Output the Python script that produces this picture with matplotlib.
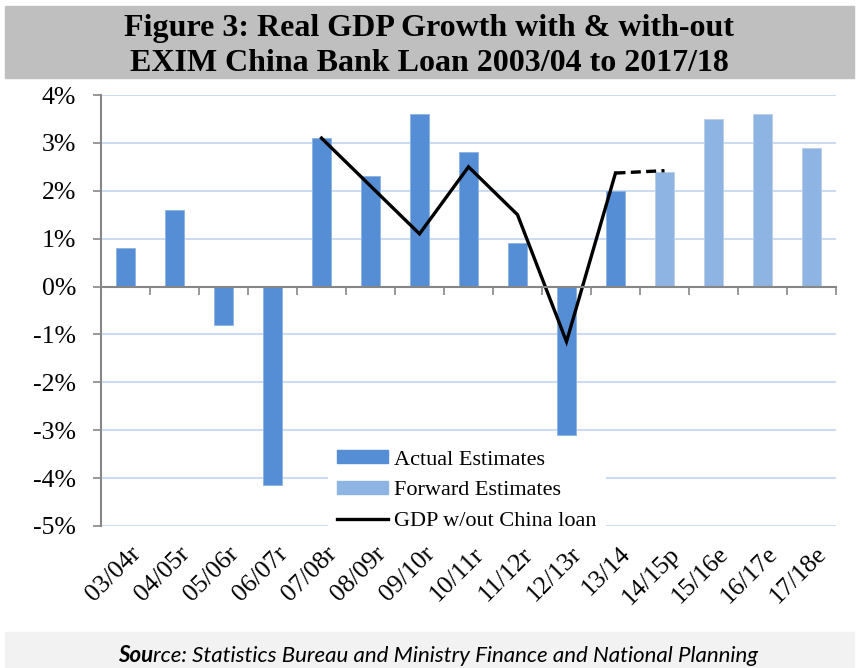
import numpy as np
import matplotlib.pyplot as plt
from matplotlib import patches
from matplotlib.lines import Line2D

years = ['03/04r', '04/05r', '05/06r', '06/07r', '07/08r', '08/09r', '09/10r',
         '10/11r', '11/12r', '12/13r', '13/14', '14/15p', '15/16e', '16/17e', '17/18e']
actual = [0.8, 1.6, -0.8, -4.15, 3.1, 2.3, 3.6, 2.8, 0.9, -3.1, 2.0]
forward = [2.4, 3.5, 3.6, 2.9]
no_loan = [3.1, 2.1, 1.1, 2.5, 1.5, -1.15, 2.37]   # 07/08r .. 13/14
no_loan_proj = [2.37, 2.42]                        # 13/14 .. 14/15p

c_actual = '#558ED5'
c_forward = '#8EB4E3'
c_grid = '#C6D9F1'
c_axis = '#868686'
W, H = 859, 668

fig = plt.figure(figsize=(W / 100, H / 100), dpi=100)

# title band and source band
fig.patches.append(patches.Rectangle((5 / W, 1 - 78 / H), 849 / W, 72 / H,
                                     transform=fig.transFigure, color='#BFBFBF', zorder=0))
fig.patches.append(patches.Rectangle((5 / W, 0), 849 / W, 36 / H,
                                     transform=fig.transFigure, color='#F2F2F2', zorder=0))
title_kw = dict(ha='center', va='baseline', fontsize=23, fontweight='bold', family='Liberation Serif')
fig.text(0.5, 1 - 36 / H, 'Figure 3: Real GDP Growth with & with-out', **title_kw)
fig.text(0.5, 1 - 71 / H, 'EXIM China Bank Loan 2003/04 to 2017/18', **title_kw)

src_y = 12 / H
t1 = fig.text(118 / W, src_y, 'Sou', ha='left', va='center', fontsize=16,
              family='Lato', style='italic', fontweight='bold')
fig.canvas.draw()
bb = t1.get_window_extent()
fig.text(bb.x1 / W, src_y, 'rce: Statistics Bureau and Ministry Finance and National Planning',
         ha='left', va='center', fontsize=16, family='Lato', style='italic')

ax = fig.add_axes([101 / W, 1 - 526 / H, 735 / W, 431 / H])
x = np.arange(len(years))
n_act = len(actual)
ax.bar(x[:n_act], actual, width=0.4, color=c_actual, edgecolor='#8DB3E2', linewidth=0.6, zorder=2)
ax.bar(x[n_act:], forward, width=0.4, color=c_forward, edgecolor='#B9CDE5', linewidth=0.6, zorder=2)
ax.plot(x[4:n_act], no_loan, color='black', lw=2.4, zorder=3, solid_joinstyle='miter')
ax.plot(x[n_act - 1:n_act + 1], no_loan_proj, color='black', lw=2.4, ls=(0, (3, 1.6)), zorder=3)

ax.set_xlim(-0.5, len(years) - 0.5)
ax.set_ylim(-5, 4)
ax.set_yticks(np.arange(-5, 5))
ax.set_yticklabels(['%d%%' % v for v in range(-5, 5)], family='Liberation Serif', fontsize=18.5)
ax.yaxis.grid(True, color=c_grid, lw=1.3)
ax.set_axisbelow(True)
ax.tick_params(axis='y', length=6, width=1.2, color=c_axis, pad=12)

for s in ['top', 'right']:
    ax.spines[s].set_visible(False)
ax.spines['left'].set_color(c_axis)
ax.spines['left'].set_linewidth(1.5)
ax.spines['bottom'].set_position(('data', 0))
ax.spines['bottom'].set_color(c_axis)
ax.spines['bottom'].set_linewidth(1.5)
ax.spines['bottom'].set_zorder(4)
ax.set_xticks(np.arange(-0.5, len(years)), minor=True)
ax.set_xticks([])
ax.tick_params(axis='x', which='minor', length=6, width=1.2, color=c_axis, direction='out')

# category labels along the bottom edge
sec = ax.secondary_xaxis(0)
sec.set_xticks(x + 0.08)
sec.set_xticklabels(years, rotation=45, ha='right', rotation_mode='anchor',
                    family='Liberation Serif', fontsize=18.5)
sec.tick_params(length=0, pad=12)
sec.spines['bottom'].set_visible(False)

handles = [patches.Patch(color=c_actual), patches.Patch(color=c_forward),
           Line2D([], [], color='black', lw=2.4)]
leg = ax.legend(handles, ['Actual Estimates', 'Forward Estimates', 'GDP w/out China loan'],
                loc='upper left', bbox_to_anchor=(216 / 735, 96 / 431),
                prop={'family': 'Liberation Serif', 'size': 16},
                frameon=True, facecolor='white', edgecolor='none', framealpha=1,
                handlelength=2.3, handleheight=0.55, labelspacing=0.5,
                handletextpad=0.27, borderpad=0.4, fancybox=False)
leg.set_zorder(5)

fig.savefig('out.png', dpi=100)
